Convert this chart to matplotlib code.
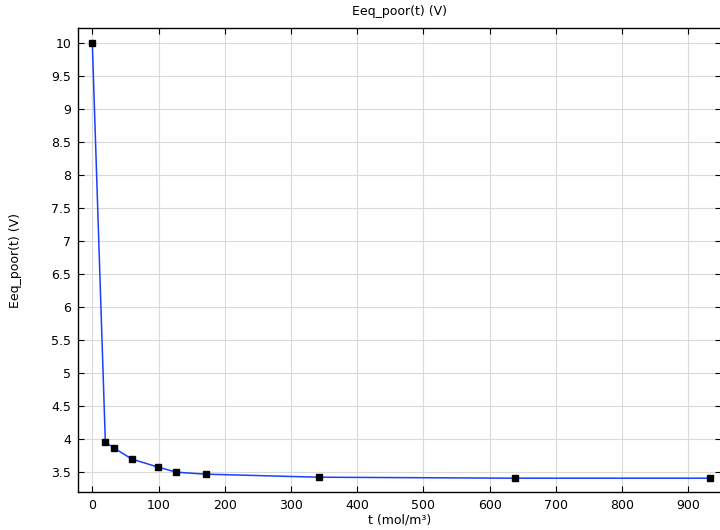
import matplotlib
matplotlib.use("Agg")
import matplotlib.pyplot as plt

# data
t = [0, 19.7, 33, 60.2, 99.7, 127, 171, 342, 638, 933]
eeq = [10.0, 3.955, 3.864, 3.697, 3.576, 3.50, 3.47, 3.424, 3.409, 3.409]
xticks = [0, 100, 200, 300, 400, 500, 600, 700, 800, 900]
yticks = [3.5, 4, 4.5, 5, 5.5, 6, 6.5, 7, 7.5, 8, 8.5, 9, 9.5, 10]

fig = plt.figure(figsize=(7.2, 5.3), dpi=100)
ax = fig.add_axes([78/720, 1-492/530, 1.0 - 78/720 + 0.002, (492-28)/530])

ax.plot(t, eeq, color="#1a3fff", lw=1.1, marker="s", ms=4.5,
        mfc="black", mec="black", zorder=3)

ax.set_xlim(-21.6, 950)
ax.set_ylim(3.2, 10.227)
ax.set_xticks(xticks)
ax.set_yticks(yticks)
ax.set_yticklabels([("%g" % v) for v in yticks])
ax.grid(True, color="#d9d9d9", lw=0.8)
ax.set_axisbelow(True)
ax.tick_params(direction="in", length=4, width=0.8, labelsize=9,
               top=True, right=True, pad=5)
for s in ax.spines.values():
    s.set_linewidth(1.0)

ax.set_title("Eeq_poor(t) (V)", fontsize=9, pad=9)
ax.set_xlabel("t (mol/m³)", fontsize=9, labelpad=1)
ax.set_ylabel("Eeq_poor(t) (V)", fontsize=9, labelpad=21)

fig.savefig("out.png", dpi=100)
